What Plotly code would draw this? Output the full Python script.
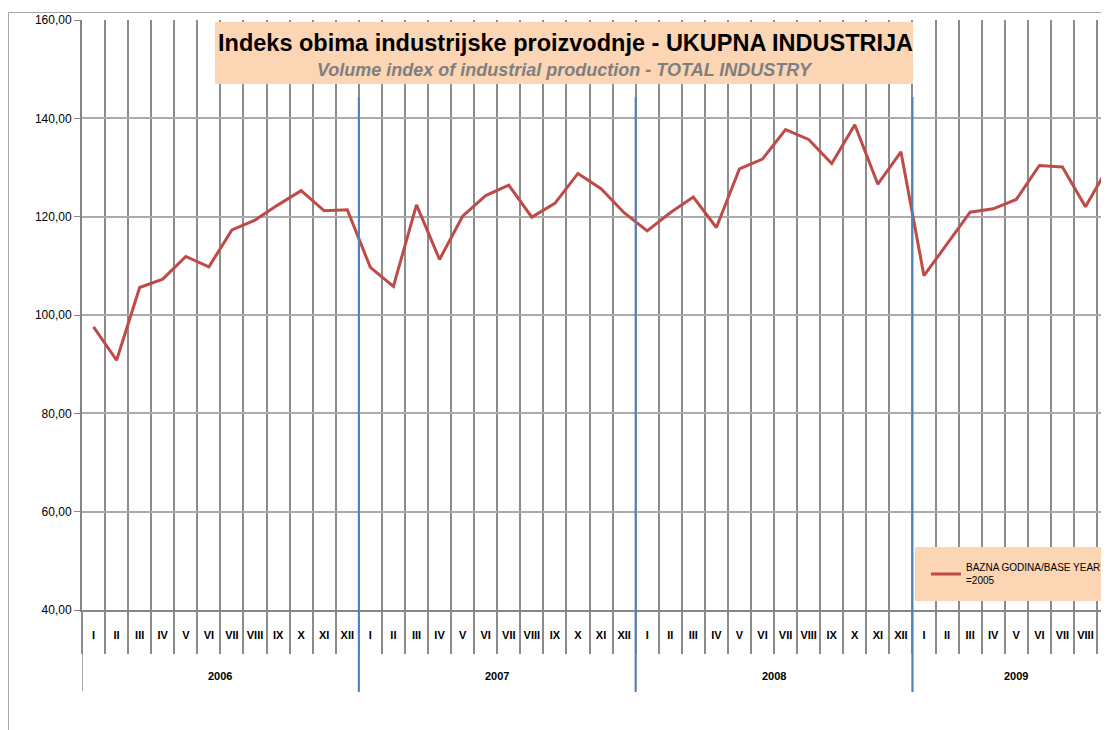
import plotly.graph_objects as go

years = ["2006"] * 12 + ["2007"] * 12 + ["2008"] * 12 + ["2009"] * 9
month_names = ["I", "II", "III", "IV", "V", "VI", "VII", "VIII", "IX", "X", "XI", "XII"]
months = month_names * 3 + month_names[:9]

index_values = [
    97.6, 90.8, 105.6, 107.3, 111.9, 109.8, 117.3, 119.3, 122.4, 125.3, 121.2, 121.4,
    109.7, 105.8, 122.4, 111.3, 120.1, 124.3, 126.4, 119.9, 122.7, 128.8, 125.7, 120.8,
    117.1, 120.8, 124.0, 117.8, 129.7, 131.7, 137.7, 135.7, 130.8, 138.7, 126.6, 133.2,
    108.0, 114.4, 120.9, 121.6, 123.5, 130.4, 130.1, 122.0, 130.2,
]

series_name = "BAZNA GODINA/BASE YEAR<br>=2005"
title_text = "Indeks obima industrijske proizvodnje - UKUPNA INDUSTRIJA"
subtitle_text = "Volume index of industrial production - TOTAL INDUSTRY"
y_ticks = [40, 60, 80, 100, 120, 140, 160]

# category positions (one slot per month)
pos = list(range(len(months)))

# page body has an 8px margin: work in window pixels, shift by OFF
OFF = 8
WIN_W, WIN_H = 1109, 730
W, H = WIN_W - OFF, WIN_H - OFF
PLOT_L, PLOT_T, PLOT_B = 82, 20, 610   # window pixels
ML = PLOT_L - OFF
MT = PLOT_T - OFF
MB = WIN_H - PLOT_B
MR = 0
PW = W - ML - MR
PH = H - MT - MB
x_range = [-0.5, len(index_values) - 1 + 0.02]


def px_x(p):
    return (p - PLOT_L) / PW


def px_y(p):
    return (PLOT_B - p) / PH


font_family = "Liberation Sans, Arial, sans-serif"

fig = go.Figure()
fig.add_trace(go.Scatter(
    x=pos,
    y=index_values,
    mode="lines",
    name=series_name,
    line=dict(color="#BE4B48", width=3),
    showlegend=True,
))

# year groups
groups = []
for i, yv in enumerate(years):
    if not groups or groups[-1][0] != yv:
        groups.append([yv, i, i])
    else:
        groups[-1][2] = i

shapes = []
annotations = []
for g_i, (yv, i0, i1) in enumerate(groups):
    # divider below axis
    shapes.append(dict(type="line", xref="x", yref="paper", x0=i0 - 0.5, x1=i0 - 0.5,
                       y0=px_y(610), y1=px_y(691), line=dict(color="#8C8C8C", width=1.5),
                       layer="above"))
    if g_i > 0:
        shapes.append(dict(type="line", xref="x", yref="paper", x0=i0 - 0.5, x1=i0 - 0.5,
                           y0=px_y(692), y1=px_y(97), line=dict(color="#4F81BD", width=2),
                           layer="above"))
    annotations.append(dict(xref="x", yref="paper", x=(i0 + i1) / 2, y=px_y(676),
                            text=yv, showarrow=False, xanchor="center", yanchor="middle",
                            font=dict(family=font_family, size=11, color="#000000", weight="bold")))

# title box
shapes.append(dict(type="rect", xref="paper", yref="paper",
                   x0=px_x(215), x1=px_x(913), y0=px_y(84), y1=px_y(22),
                   fillcolor="#FCD5B5", line=dict(width=0), layer="above"))
# legend box
shapes.append(dict(type="rect", xref="paper", yref="paper",
                   x0=px_x(915), x1=px_x(1112), y0=px_y(601), y1=px_y(547),
                   fillcolor="#FCD5B5", line=dict(width=0), layer="above"))
# outer chart border
shapes.append(dict(type="line", xref="paper", yref="paper",
                   x0=px_x(8.5), x1=px_x(8.5), y0=px_y(735), y1=px_y(12.5),
                   line=dict(color="#A6A6A6", width=1)))
shapes.append(dict(type="line", xref="paper", yref="paper",
                   x0=px_x(8.5), x1=px_x(1115), y0=px_y(12.5), y1=px_y(12.5),
                   line=dict(color="#A6A6A6", width=1)))

annotations += [
    dict(xref="paper", yref="paper", x=px_x(565), y=px_y(43), text=title_text,
         showarrow=False, xanchor="center", yanchor="middle",
         font=dict(family=font_family, size=23.5, color="#000000", weight="bold")),
    dict(xref="paper", yref="paper", x=px_x(565), y=px_y(70), text=subtitle_text,
         showarrow=False, xanchor="center", yanchor="middle",
         font=dict(family=font_family, size=18, color="#7F7F7F", weight="bold", style="italic")),
]

fig.update_layout(
    width=W, height=H,
    margin=dict(l=ML, r=MR, t=MT, b=MB, pad=0),
    paper_bgcolor="#FFFFFF", plot_bgcolor="#FFFFFF",
    separators=", ",
    font=dict(family=font_family, color="#000000"),
    shapes=shapes,
    annotations=annotations,
    legend=dict(x=px_x(926), y=px_y(574), xanchor="left", yanchor="middle",
                bgcolor="rgba(0,0,0,0)", font=dict(size=10, color="#000000")),
    xaxis=dict(
        range=x_range,
        tickmode="array", tickvals=pos, ticktext=months,
        tickangle=0,
        ticks="", showgrid=False,
        minor=dict(tick0=-0.5, dtick=1, ticks="outside", ticklen=42,
                   tickcolor="#8C8C8C", tickwidth=1.5,
                   showgrid=True, gridcolor="#8C8C8C", gridwidth=1.5),
        ticklabelstandoff=14,
        showline=True, linecolor="#868686", linewidth=2,
        tickfont=dict(size=11, color="#000000", weight="bold"),
        zeroline=False,
    ),
    yaxis=dict(
        range=[40, 160], tickvals=y_ticks, tickformat=".2f",
        showgrid=True, gridcolor="#ABABAB", gridwidth=1.5,
        ticks="outside", ticklen=6, tickcolor="#868686",
        showline=True, linecolor="#868686", linewidth=2,
        tickfont=dict(size=12, color="#000000"),
        zeroline=False,
    ),
)

fig.write_html("out.html")
